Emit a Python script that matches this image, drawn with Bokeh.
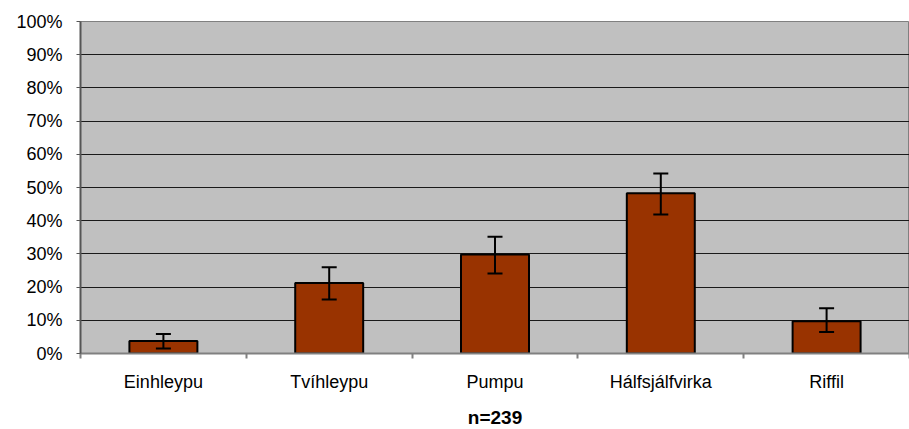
from bokeh.plotting import figure
from bokeh.models import (ColumnDataSource, Range1d, FixedTicker, NumeralTickFormatter,
                          Whisker, TeeHead)
from bokeh.embed import file_html
from bokeh.resources import INLINE

categories = ["Einhleypu", "Tvíhleypu", "Pumpu", "Hálfsjálfvirka", "Riffil"]
values = [0.038, 0.212, 0.298, 0.483, 0.097]
err_upper = [0.059, 0.260, 0.352, 0.542, 0.136]
err_lower = [0.015, 0.163, 0.241, 0.419, 0.065]
y_ticks = [0.0, 0.1, 0.2, 0.3, 0.4, 0.5, 0.6, 0.7, 0.8, 0.9, 1.0]
x_label = "n=239"

xs = [i + 0.5 for i in range(len(categories))]
src = ColumnDataSource(dict(x=xs, top=values, upper=err_upper, lower=err_lower, cat=categories))

FONT = "Liberation Sans"

p = figure(frame_width=829, frame_height=332, output_backend="svg", toolbar_location=None,
           x_range=Range1d(0, len(categories)), y_range=Range1d(0, 1),
           min_border_left=80, min_border_right=0, min_border_top=21, min_border_bottom=76)

p.background_fill_color = "#C0C0C0"
p.border_fill_color = "white"
p.outline_line_color = "#808080"
p.outline_line_width = 1

p.vbar(x="x", top="top", width=0.41, source=src, fill_color="#993300",
       line_color="black", line_width=2)

w = Whisker(base="x", upper="upper", lower="lower", source=src,
            line_color="black", line_width=2, level="overlay",
            upper_head=TeeHead(size=15, line_color="black", line_width=2),
            lower_head=TeeHead(size=15, line_color="black", line_width=2))
p.add_layout(w)

# y axis
p.yaxis.ticker = FixedTicker(ticks=y_ticks)
p.yaxis.formatter = NumeralTickFormatter(format="0%")
p.yaxis.major_label_text_font = FONT
p.yaxis.major_label_text_font_size = "18px"
p.yaxis.major_label_text_color = "black"
p.yaxis.major_tick_out = 4
p.yaxis.major_tick_in = 0
p.yaxis.minor_tick_out = 0
p.yaxis.minor_tick_in = 0
p.yaxis.major_label_standoff = 14
p.yaxis.axis_line_color = "#555555"
p.yaxis.axis_line_width = 2
p.yaxis.major_tick_line_color = "#555555"

# x axis
p.xaxis.ticker = FixedTicker(ticks=xs, minor_ticks=list(range(len(categories) + 1)))
p.xaxis.major_label_overrides = {x: c for x, c in zip(xs, categories)}
p.xaxis.major_label_text_font = FONT
p.xaxis.major_label_text_font_size = "18px"
p.xaxis.major_label_text_color = "black"
p.xaxis.major_tick_out = 0
p.xaxis.major_tick_in = 0
p.xaxis.minor_tick_out = 5
p.xaxis.minor_tick_in = 0
p.xaxis.minor_tick_line_color = "#808080"
p.xaxis.minor_tick_line_width = 2
p.xaxis.major_label_standoff = 13
p.xaxis.axis_line_color = "#808080"
p.xaxis.axis_line_width = 2
p.xaxis.axis_label = x_label
p.xaxis.axis_label_text_font = FONT
p.xaxis.axis_label_text_font_style = "bold"
p.xaxis.axis_label_text_font_size = "19px"
p.xaxis.axis_label_text_color = "black"
p.xaxis.axis_label_standoff = 12

p.xgrid.visible = False
p.ygrid.ticker = FixedTicker(ticks=y_ticks)
p.ygrid.grid_line_color = "#1a1a1a"
p.ygrid.grid_line_width = 1

open("out.html", "w").write(file_html(p, INLINE))
